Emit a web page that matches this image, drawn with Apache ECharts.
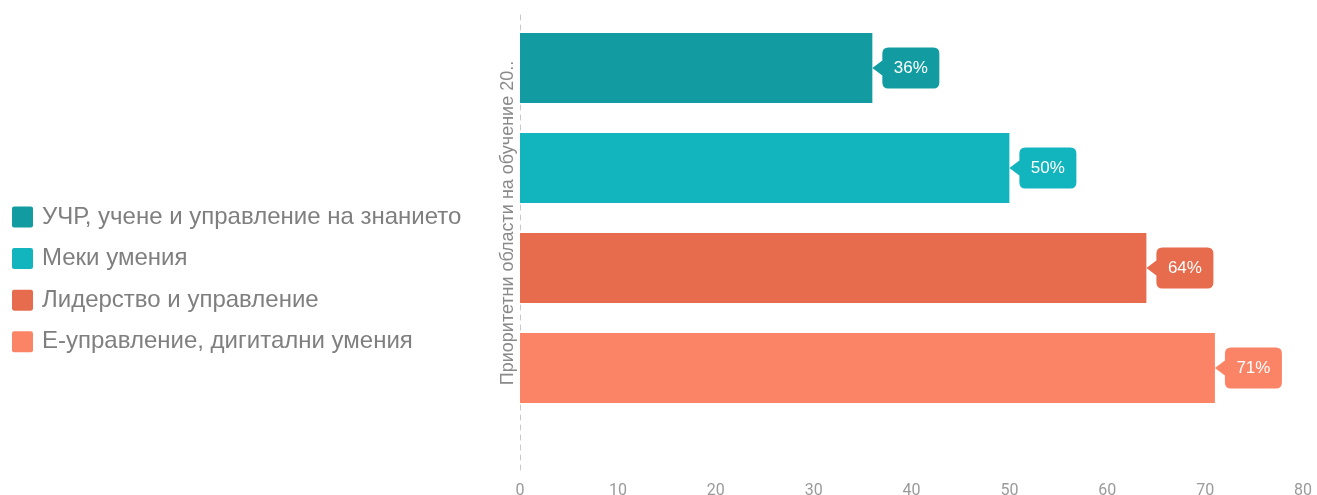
<!DOCTYPE html>
<html>
<head>
<meta charset="utf-8">
<title>Приоритетни области на обучение</title>
<script src="https://cdn.jsdelivr.net/npm/echarts@6/dist/echarts.min.js"></script>
<style>
  html, body { margin: 0; padding: 0; background: #ffffff; }
  #chart { width: 1317px; height: 495px; }
</style>
</head>
<body>
<div id="chart"></div>
<script>
// Training priority areas, share of respondents (%)
const seriesNames = [
  'УЧР, учене и управление на знанието',
  'Меки умения',
  'Лидерство и управление',
  'Е-управление, дигитални умения'
];
const values = [36, 50, 64, 71];
const colors = ['#129ca1', '#12b5bd', '#e76b4d', '#fc8466'];
const axisTitle = 'Приоритетни области на обучение 20..';
const xTicks = [0, 10, 20, 30, 40, 50, 60, 70, 80];

const FONT = '"Liberation Sans", Arial, sans-serif';
const TICK_FONT = 'Roboto, sans-serif';

// speech-bubble marker with a pointer on its left side
const bubblePath = 'path://M0,20.5 L10,13 L10,6 Q10,0 16,0 L61,0 Q67,0 67,6 L67,35 Q67,41 61,41 L16,41 Q10,41 10,35 L10,28 Z';
// legend swatch: square with slightly rounded corners
const swatchPath = 'path://M2,0 L18,0 Q20,0 20,2 L20,18 Q20,20 18,20 L2,20 Q0,20 0,18 L0,2 Q0,0 2,0 Z';

const barSeries = seriesNames.map((name, i) => ({
  name: name,
  type: 'bar',
  xAxisIndex: 1,
  yAxisIndex: 1,
  barWidth: 70,
  barGap: '-100%',
  itemStyle: { color: colors[i] },
  data: values.map((v, j) => (j === i ? v : '-')),
  markPoint: {
    symbol: bubblePath,
    symbolSize: [67, 41],
    symbolOffset: [33.5, 0],
    silent: true,
    itemStyle: { color: colors[i] },
    label: {
      show: true,
      position: 'inside',
      offset: [5, 0],
      color: '#ffffff',
      fontFamily: FONT,
      fontSize: 17,
      formatter: (p) => p.value + '%'
    },
    data: [{ coord: [values[i], i], value: values[i] }]
  }
}));

const chart = echarts.init(document.getElementById('chart'), null, { renderer: 'canvas' });
chart.setOption({
  animation: false,
  backgroundColor: '#ffffff',
  textStyle: { fontFamily: FONT },
  legend: {
    orient: 'vertical',
    left: 7,
    top: 200,
    itemWidth: 21,
    itemHeight: 21,
    itemGap: 17.6,
    icon: swatchPath,
    selectedMode: false,
    textStyle: {
      fontFamily: FONT,
      fontSize: 24,
      color: '#7f7f7f',
      padding: [0, 0, 0, 4]
    },
    data: seriesNames
  },
  grid: [
    // frame for the x scale and the dashed baseline
    { left: 520, right: 14, top: 15, bottom: 25, outerBoundsMode: 'none' },
    // bar area
    { left: 520, right: 14, top: 18, bottom: 77, outerBoundsMode: 'none' }
  ],
  xAxis: [
    {
      type: 'value',
      gridIndex: 0,
      min: xTicks[0],
      max: xTicks[xTicks.length - 1],
      interval: 10,
      axisLine: { show: false },
      axisTick: { show: false },
      splitLine: { show: false },
      axisLabel: { color: '#9a9a9a', fontSize: 16, margin: 13, fontFamily: TICK_FONT }
    },
    {
      type: 'value',
      gridIndex: 1,
      min: xTicks[0],
      max: xTicks[xTicks.length - 1],
      show: false
    }
  ],
  yAxis: [
    {
      type: 'category',
      gridIndex: 0,
      data: [''],
      axisLine: { show: true, lineStyle: { color: '#c8c8c8', type: [5, 5], width: 1 } },
      axisTick: { show: false },
      axisLabel: { show: false },
      splitLine: { show: false }
    },
    {
      type: 'category',
      gridIndex: 1,
      inverse: true,
      data: seriesNames,
      axisLine: { show: false },
      axisTick: { show: false },
      axisLabel: { show: false },
      splitLine: { show: false },
      name: axisTitle,
      nameLocation: 'middle',
      nameRotate: 90,
      nameGap: 3,
      nameTextStyle: { color: '#8a8a8a', fontSize: 18, fontFamily: FONT, padding: [0, 10, 0, 0] }
    }
  ],
  series: barSeries
});
</script>
</body>
</html>
